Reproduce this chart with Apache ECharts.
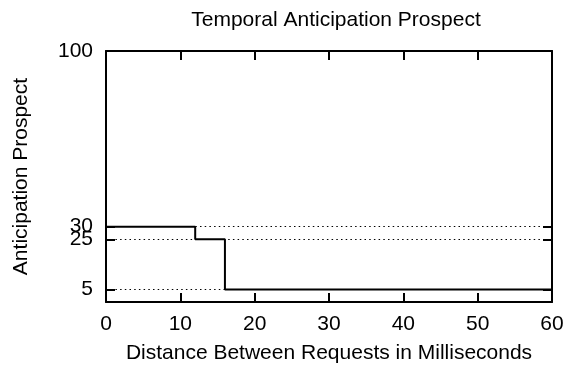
<!DOCTYPE html>
<html>
<head>
<meta charset="utf-8">
<script src="https://cdn.jsdelivr.net/npm/echarts@6/dist/echarts.min.js"></script>
<style>
  html, body { margin: 0; padding: 0; background: #fff; }
  #chart { width: 570px; height: 369px; }
</style>
</head>
<body>
<div id="chart"></div>
<script>
// Step function: anticipation prospect vs. distance between requests (ms)
const distances = [0, 12, 16, 60];
const prospects = [30, 25, 5, 5];

// Axis ticks
const xTicks = [0, 10, 20, 30, 40, 50, 60];
const yTicks = [5, 25, 30, 100];
// Dotted reference levels
const levels = [5, 25, 30];

const FONT = 'Liberation Sans, Arial, Helvetica, sans-serif';
const INK = '#000';
const FS = 21;

const points = distances.map((d, i) => [d, prospects[i]]);

const chart = echarts.init(document.getElementById('chart'), null, { renderer: 'canvas' });

const baseX = {
  type: 'value', min: 0, max: 60, interval: 10,
  axisLine: { show: true, onZero: false, lineStyle: { color: INK, width: 2 } },
  axisTick: { show: true, inside: true, length: 9, lineStyle: { color: INK, width: 2 } },
  splitLine: { show: false }
};
const baseY = {
  type: 'value', min: 0, max: 100,
  axisLine: { show: true, onZero: false, lineStyle: { color: INK, width: 2 } },
  axisTick: { show: true, inside: true, length: 9, customValues: levels, lineStyle: { color: INK, width: 2 } },
  splitLine: { show: false }
};

chart.setOption({
  animation: false,
  backgroundColor: '#fff',
  title: {
    text: 'Temporal Anticipation Prospect',
    left: 331, top: 5, textAlign: 'center',
    textStyle: { fontFamily: FONT, fontSize: FS, fontWeight: 'normal', color: INK }
  },
  grid: { left: 106, right: 18, top: 51, bottom: 66.5, containLabel: false },
  xAxis: [
    Object.assign({}, baseX, {
      position: 'bottom',
      name: 'Distance Between Requests in Milliseconds',
      nameLocation: 'middle', nameGap: 41,
      nameTextStyle: { fontFamily: FONT, fontSize: FS, color: INK },
      axisLabel: { show: true, margin: 12, fontFamily: FONT, fontSize: FS, color: INK,
        customValues: xTicks },
    }),
    Object.assign({}, baseX, { position: 'top', axisLabel: { show: false } })
  ],
  yAxis: [
    Object.assign({}, baseY, {
      position: 'left',
      name: 'Anticipation Prospect',
      nameLocation: 'middle', nameGap: 74,
      nameTextStyle: { fontFamily: FONT, fontSize: FS, color: INK },
      axisLabel: { show: true, margin: 13, fontFamily: FONT, fontSize: FS, color: INK,
        customValues: yTicks, hideOverlap: false }
    }),
    Object.assign({}, baseY, { position: 'right', axisLabel: { show: false } })
  ],
  series: [{
    type: 'line',
    step: 'end',
    data: points,
    symbol: 'none',
    lineStyle: { color: INK, width: 2 },
    z: 3,
    markLine: {
      silent: true,
      symbol: 'none',
      label: { show: false },
      lineStyle: { color: INK, type: [1.5, 3.2], width: 1.2 },
      data: levels.map(v => ({ yAxis: v }))
    }
  }]
});
</script>
</body>
</html>
